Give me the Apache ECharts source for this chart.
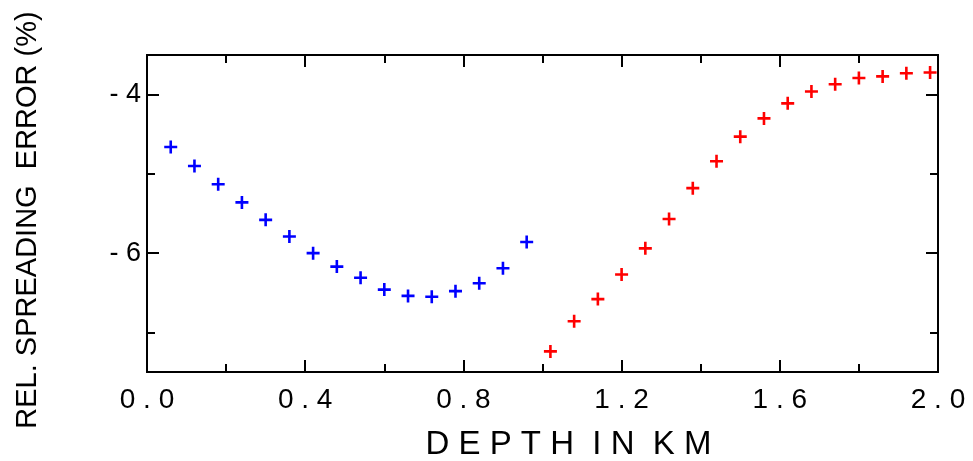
<!DOCTYPE html>
<html>
<head>
<meta charset="utf-8">
<script src="https://cdn.jsdelivr.net/npm/echarts@6/dist/echarts.min.js"></script>
<style>
  html, body { margin: 0; padding: 0; background: #fff; }
  #chart { width: 973px; height: 461px; }
</style>
</head>
<body>
<div id="chart"></div>
<script>
// Depths (km) of each sample
const depthShallow = [0.06, 0.12, 0.18, 0.24, 0.30, 0.36, 0.42, 0.48, 0.54, 0.60, 0.66, 0.72, 0.78, 0.84, 0.90, 0.96];
const depthDeep = [1.02, 1.08, 1.14, 1.20, 1.26, 1.32, 1.38, 1.44, 1.50, 1.56, 1.62, 1.68, 1.74, 1.80, 1.86, 1.92, 1.98];

// Relative spreading error (%)
const errShallow = [-4.66, -4.90, -5.13, -5.36, -5.58, -5.79, -6.00, -6.17, -6.31, -6.46, -6.54, -6.55, -6.48, -6.38, -6.19, -5.86];
const errDeep = [-7.24, -6.86, -6.58, -6.27, -5.94, -5.57, -5.18, -4.84, -4.53, -4.30, -4.11, -3.96, -3.87, -3.79, -3.77, -3.73, -3.72];

// Axis ticks
const yMajorTicks = [-6, -4];
const yMinorTicks = [-7, -5];
const xTickStep = 0.4;

const FONT = 'Liberation Sans, Arial, Helvetica, sans-serif';
const plusPath = 'path://M5.2,0H7.8V5.2H13V7.8H7.8V13H5.2V7.8H0V5.2H5.2Z';
const lineStyle = { color: '#000', width: 2 };

function pairs(xs, ys) { return xs.map((x, i) => [x, ys[i]]); }

function yAxisDef(position, ticks, len, withLabels) {
  return {
    type: 'value', position: position, min: -7.5, max: -3.5,
    axisLine: { show: true, lineStyle: lineStyle },
    axisTick: { show: true, inside: true, length: len, customValues: ticks, lineStyle: lineStyle },
    axisLabel: withLabels ? {
      show: true, customValues: ticks, margin: 6,
      fontFamily: FONT, fontSize: 27, color: '#000',
      formatter: v => (v < 0 ? '- ' : '') + Math.abs(v)
    } : { show: false },
    splitLine: { show: false },
    name: withLabels ? 'REL. SPREADING  ERROR (%)' : '',
    nameLocation: 'middle', nameGap: 105,
    nameTextStyle: { fontFamily: FONT, fontSize: 29, color: '#000', padding: [0, 13, 0, 0] }
  };
}

function xAxisDef(position, withLabels) {
  return {
    type: 'value', position: position, min: 0, max: 2, interval: xTickStep,
    axisLine: { show: true, lineStyle: lineStyle },
    axisTick: { show: true, inside: true, length: 12, lineStyle: lineStyle },
    minorTick: { show: true, splitNumber: 2, length: 8, lineStyle: lineStyle },
    axisLabel: withLabels ? {
      show: true, margin: 14, fontFamily: FONT, fontSize: 28, color: '#000',
      formatter: v => v.toFixed(1).split('').join(' ')
    } : { show: false },
    splitLine: { show: false }, minorSplitLine: { show: false },
    name: withLabels ? 'D E P T H  I N  K M' : '',
    nameLocation: 'middle', nameGap: 56,
    nameTextStyle: { fontFamily: FONT, fontSize: 33, color: '#000', padding: [0, 0, 0, 52] }
  };
}

const chart = echarts.init(document.getElementById('chart'), null, { renderer: 'canvas' });
chart.setOption({
  animation: false,
  backgroundColor: '#fff',
  grid: { left: 147, right: 35, top: 55, bottom: 89, outerBoundsMode: 'none', containLabel: false },
  xAxis: [xAxisDef('bottom', true), xAxisDef('top', false)],
  yAxis: [
    yAxisDef('left', yMajorTicks, 12, true),
    yAxisDef('left', yMinorTicks, 8, false),
    yAxisDef('right', yMajorTicks, 12, false),
    yAxisDef('right', yMinorTicks, 8, false)
  ],
  series: [
    {
      type: 'scatter', xAxisIndex: 0, yAxisIndex: 0,
      data: pairs(depthShallow, errShallow),
      symbol: plusPath, symbolSize: 13,
      itemStyle: { color: '#0000ff', opacity: 1 }
    },
    {
      type: 'scatter', xAxisIndex: 0, yAxisIndex: 0,
      data: pairs(depthDeep, errDeep),
      symbol: plusPath, symbolSize: 13,
      itemStyle: { color: '#ff0000', opacity: 1 }
    }
  ]
});
</script>
</body>
</html>
